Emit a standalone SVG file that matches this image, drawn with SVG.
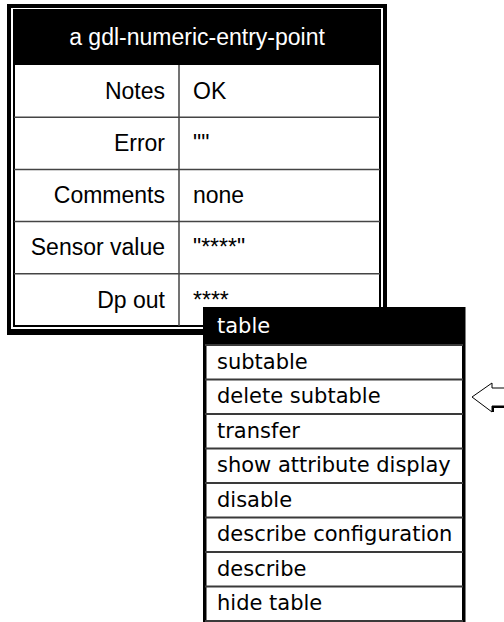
<svg xmlns="http://www.w3.org/2000/svg" width="504" height="622" viewBox="0 0 504 622">
<style>
.t{font-family:"Liberation Sans",Arial,sans-serif;font-size:23px;fill:#000}
.h{font-family:"Liberation Sans",Arial,sans-serif;font-size:23px;fill:#fff;text-anchor:middle}
.lab{text-anchor:end}
.m{font-family:"DejaVu Sans",sans-serif;font-size:21px;fill:#000}
.div{stroke:#444;stroke-width:1.5;fill:none}
.mdiv{stroke:#3a3a3a;stroke-width:2;fill:none}
</style>
<rect width="504" height="622" fill="#fff"/>
<g id="attribute-table">
  <path d="M7 4H387V335H7Z M11 8V329H383V8Z" fill="#000" fill-rule="evenodd"/>
  <rect x="14" y="10" width="366" height="316" fill="#fff" stroke="#000" stroke-width="2"/>
  <rect x="13" y="10" width="368" height="55" fill="#000"/>
  <text class="h" x="197" y="45">a gdl-numeric-entry-point</text>
  <line class="div" x1="14" y1="117.2" x2="380" y2="117.2"/>
  <line class="div" x1="14" y1="169.4" x2="380" y2="169.4"/>
  <line class="div" x1="14" y1="221.6" x2="380" y2="221.6"/>
  <line class="div" x1="14" y1="273.8" x2="380" y2="273.8"/>
  <line class="div" x1="179" y1="65" x2="179" y2="326"/>
  <text class="t lab" x="165" y="99">Notes</text>
  <text class="t" x="193" y="99">OK</text>
  <text class="t lab" x="165" y="151">Error</text>
  <text class="t" x="193" y="151">""</text>
  <text class="t lab" x="165" y="203">Comments</text>
  <text class="t" x="193" y="203">none</text>
  <text class="t lab" x="165" y="255">Sensor value</text>
  <text class="t" x="193" y="255">"****"</text>
  <text class="t lab" x="165" y="308">Dp out</text>
  <text class="t" x="193" y="308">****</text>
</g>
<g id="menu">
  <rect x="203" y="307" width="262" height="314" fill="#fff"/>
  <rect x="203" y="307" width="262" height="38" fill="#000"/>
  <rect x="203" y="307" width="3.5" height="315" fill="#000"/>
  <rect x="462" y="307" width="3.5" height="315" fill="#000"/>
  <line class="mdiv" x1="205" y1="345" x2="463" y2="345"/>
  <line class="mdiv" x1="205" y1="379.5" x2="463" y2="379.5"/>
  <line class="mdiv" x1="205" y1="414" x2="463" y2="414"/>
  <line class="mdiv" x1="205" y1="448.5" x2="463" y2="448.5"/>
  <line class="mdiv" x1="205" y1="483" x2="463" y2="483"/>
  <line class="mdiv" x1="205" y1="517.5" x2="463" y2="517.5"/>
  <line class="mdiv" x1="205" y1="552" x2="463" y2="552"/>
  <line class="mdiv" x1="205" y1="586.5" x2="463" y2="586.5"/>
  <line class="mdiv" x1="205" y1="621" x2="463" y2="621"/>
  <text class="m" x="217" y="333" fill="#fff" style="fill:#fff">table</text>
  <text class="m" x="217" y="368.5">subtable</text>
  <text class="m" x="217" y="403">delete subtable</text>
  <text class="m" x="217" y="437.5">transfer</text>
  <text class="m" x="217" y="472">show attribute display</text>
  <text class="m" x="217" y="506.5">disable</text>
  <text class="m" x="217" y="541">describe configuration</text>
  <text class="m" x="217" y="575.5">describe</text>
  <text class="m" x="217" y="610">hide table</text>
</g>
<g id="pointer">
  <polyline points="505,388 492,388 492,383 472,397 492,412 492,406 505,406" fill="none" stroke="#000" stroke-width="1"/>
  <path d="M492 407H505 M493 406V412" stroke="#000" stroke-width="2" fill="none"/>
</g>
<g id="connectors"></g>
</svg>
